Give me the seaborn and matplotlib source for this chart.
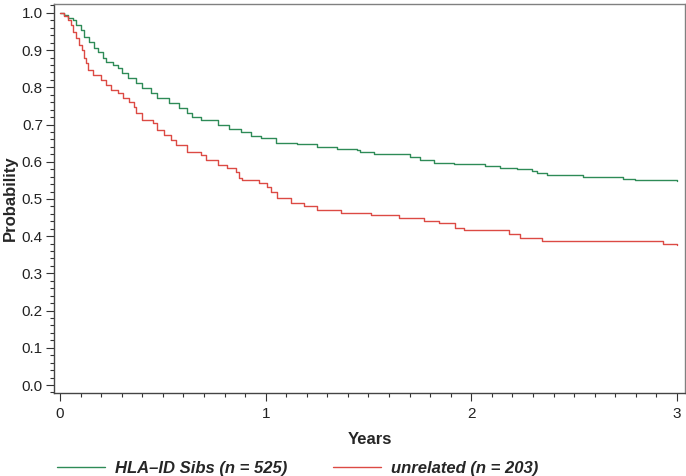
import matplotlib
matplotlib.use("Agg")
import matplotlib.pyplot as plt
from matplotlib.ticker import MultipleLocator
import pandas as pd
import seaborn as sns

# Kaplan-Meier style step curves
sibs_years = [0.0, 0.02, 0.037, 0.062, 0.078, 0.102, 0.118, 0.142, 0.167, 0.183, 0.207, 0.223,
              0.256, 0.28, 0.304, 0.329, 0.369, 0.401, 0.442, 0.474, 0.531, 0.579, 0.62, 0.644,
              0.684, 0.766, 0.822, 0.879, 0.927, 0.976, 1.049, 1.154, 1.25, 1.348, 1.445, 1.461,
              1.526, 1.671, 1.704, 1.752, 1.817, 1.914, 2.068, 2.141, 2.222, 2.295, 2.319, 2.367,
              2.545, 2.739, 2.796, 3.0]
sibs_prob = [1.0, 0.995, 0.987, 0.981, 0.968, 0.954, 0.936, 0.923, 0.905, 0.896, 0.878, 0.869,
             0.86, 0.851, 0.838, 0.824, 0.811, 0.798, 0.784, 0.771, 0.759, 0.744, 0.73, 0.72,
             0.711, 0.699, 0.687, 0.681, 0.669, 0.663, 0.651, 0.648, 0.641, 0.634, 0.632, 0.627,
             0.621, 0.621, 0.612, 0.606, 0.596, 0.593, 0.589, 0.583, 0.58, 0.576, 0.571, 0.565,
             0.56, 0.555, 0.55, 0.548]

unrel_years = [0.0, 0.021, 0.037, 0.053, 0.062, 0.078, 0.094, 0.107, 0.118, 0.126, 0.134, 0.159,
               0.183, 0.199, 0.223, 0.248, 0.28, 0.306, 0.337, 0.36, 0.369, 0.401, 0.45, 0.474,
               0.506, 0.539, 0.563, 0.62, 0.684, 0.709, 0.766, 0.814, 0.854, 0.87, 0.887, 0.967,
               1.008, 1.024, 1.057, 1.121, 1.186, 1.251, 1.364, 1.51, 1.647, 1.768, 1.841, 1.922,
               1.963, 2.181, 2.238, 2.343, 2.934, 3.0]
unrel_prob = [1.0, 0.992, 0.981, 0.968, 0.95, 0.932, 0.914, 0.9, 0.878, 0.865, 0.847, 0.833,
              0.832, 0.82, 0.806, 0.793, 0.784, 0.771, 0.76, 0.748, 0.73, 0.712, 0.703, 0.685,
              0.672, 0.659, 0.645, 0.627, 0.618, 0.605, 0.591, 0.583, 0.573, 0.556, 0.551, 0.542,
              0.533, 0.52, 0.502, 0.49, 0.481, 0.47, 0.463, 0.456, 0.45, 0.442, 0.436, 0.421,
              0.416, 0.406, 0.396, 0.387, 0.378, 0.376]

labels = ["HLA\u2013ID Sibs (n = 525)", "unrelated (n = 203)"]
colors = ["#2E8B57", "#DC4A44"]

df = pd.concat([
    pd.DataFrame({"Years": sibs_years, "Probability": sibs_prob, "group": labels[0]}),
    pd.DataFrame({"Years": unrel_years, "Probability": unrel_prob, "group": labels[1]}),
])

sns.set_style("ticks")
plt.rcParams["font.family"] = ["Liberation Sans", "DejaVu Sans"]

fig = plt.figure(figsize=(6.86, 4.76), dpi=100)
ax = fig.add_axes([54 / 686, 1 - 393 / 476, 631 / 686, 389 / 476])

sns.lineplot(data=df, x="Years", y="Probability", hue="group", palette=colors,
             drawstyle="steps-post", linewidth=1.0, ax=ax, legend=False, sort=True)

ax.set_xlim(-0.029, 3.039)
ax.set_ylim(-0.0215, 1.024)
ax.set_xticks([0, 1, 2, 3])
ax.set_yticks([i / 10 for i in range(11)])
ax.set_yticklabels([f"{i / 10:.1f}" for i in range(11)])
ax.xaxis.set_minor_locator(MultipleLocator(0.1))
ax.yaxis.set_minor_locator(MultipleLocator(0.02))
ax.tick_params(which="major", length=6, width=0.8, color="#333333", labelsize=11,
               labelcolor="#222222", pad=2)
ax.tick_params(which="minor", length=3, width=0.8, color="#333333")
ax.tick_params(axis="x", which="major", pad=4)

for side in ["top", "right", "left", "bottom"]:
    ax.spines[side].set_visible(True)
    ax.spines[side].set_color("#808080")
    ax.spines[side].set_linewidth(1.0)
ax.spines["left"].set_color("#444444")
ax.spines["bottom"].set_color("#444444")

ax.set_xlabel("Years", fontsize=12, fontweight="bold", labelpad=8)
ax.set_ylabel("Probability", fontsize=12, fontweight="bold", labelpad=3)

handles = [plt.Line2D([], [], color=c, linewidth=1.0) for c in colors]
fig.legend(handles, labels, loc="center left", bbox_to_anchor=(57 / 686, 1 - 468 / 476),
           ncol=2, frameon=False, borderpad=0, borderaxespad=0, handlelength=2.9,
           handletextpad=0.6, columnspacing=2.7,
           prop={"size": 12, "weight": "bold", "style": "italic"})

fig.savefig("out.png", dpi=100)
